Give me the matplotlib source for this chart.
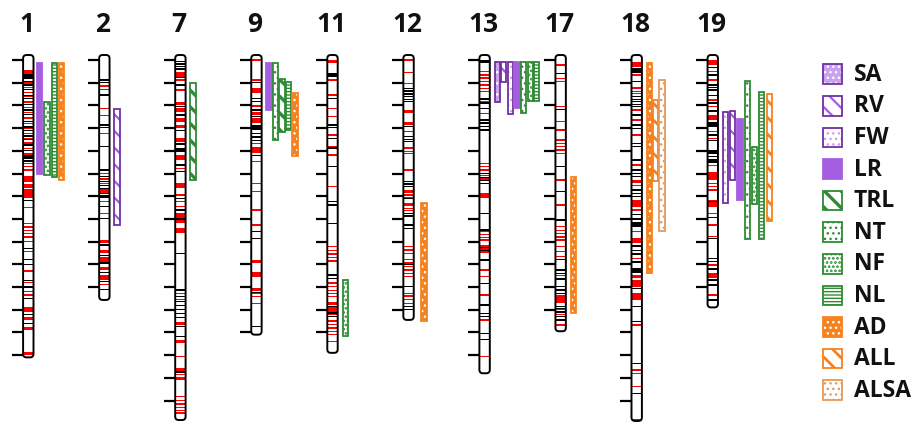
import matplotlib
matplotlib.use('Agg')
import matplotlib.pyplot as plt
from matplotlib.patches import FancyBboxPatch, Rectangle
from matplotlib.collections import PatchCollection

# ---------------- data ----------------
CHROMS = ['1', '2', '7', '9', '11', '12', '13', '17', '18', '19']
CHROM_LEN = [131, 105.7, 158.6, 121, 129, 114.5, 138, 119.5, 159, 109]  # cM

RED_1 = [(4.4, 6.2), 10.2, 12, 14.3, 16.2, 18.5, 21, 23, 25.5, 28, 30.2, 32.3, 34.5, 36.5, 39, (41, 42), 45.5, 47,
         48.5, (51, 53.6), 55, 56, (57, 61), 65, 72, 73.5, 75, 76.5, 78, 80, 84.4, 93, 98, 102, 103.5, (109, 111),
         (113, 114.5), (117.6, 119), (128.5, 130)]
BLK_1 = [(6.2, 8.5), 9.5, 11, 13, 15.5, 17, 19.5, 22, 24, 27, 29.5, 31, 33.5, 35, 37.5, 40, (42, 43.5), 44.5, 62, 83,
         88, 90, 97, 100, 105, 112, 116]
RED_2 = [11.5, 13, 21.3, 24.5, 32.3, 50, 52.5, 54.4, (57, 58.6), 62.4, 67.5, (79.3, 80.6), (83.7, 85), (86.6, 88.8),
         (91, 92.5), (94.7, 97), 99]
BLK_2 = [8.8, 10, 15.4, 28.6, 29.8, 38.2, 48.5, 51.4, 53.6, 55.2, 56.5, 58.9, (59.5, 61), 64.6, 69.7, 81.5, 86, 89.5,
         93.5, 97.7, 101]
RED_7 = [(5.1, 7.3), 8.8, 13.2, (18.4, 19.8), (21.3, 22.8), (25.7, 27.2), (28.6, 30), (34.5, 36), (41.9, 44), 47.8,
         (54.3, 56.5), 59.5, 62.4, 64.6, (67.5, 69.5), (70.5, 72), (74, 76.3), 102.8, 105.5, (115.3, 116.7),
         (123.3, 124.8), 130.7, (135.7, 137), 138.5, (139.5, 141), 148.3, 150, 151.5, 153, 154.5, 155.5]
BLK_7 = [0.7, 1.8, 2.9, 4, 7.6, 11, 20.5, 24.2, 31, 37, (38.9, 40.4), 46.3, 49.2, 61, 66, 70, 85.2, 101.3, 104.2,
         106.5, 108.2, 110, 111.6, 113.5, 117.5, 121.9, 137.5]
RED_9 = [0, 8.8, (12.5, 14.7), (19.8, 20.6), (22.8, 24.2), (25.7, 27.9), 36.7, (38.2, 41.1), 44.8, 54.3, 58, 66, 72.7,
         (88, 89.6), (93.3, 95.4), (100.6, 101.8), 103, 104.3, 107.2]
BLK_9 = [10, 16.9, 18.3, 22, 25, (28.6, 30.8), 32.5, 34, 35.5, 42, 75.6, 78.5, 102.3, 117.5]
RED_11 = [(0, 1.5), 8.8, 15.4, 21.3, 25, 33, 38.2, 41.9, 55.8, 82.2, 83.8, 85.5, 87, 88.5, (97.7, 98.5), 99.8, 101.5,
          103, 104.3, (106.5, 108), (109, 111), 112, (114.5, 115.5), 116.5, 118, 119.5, 121, 124]
BLK_11 = [(5.9, 7.3), 16.9, 28.6, 29.6, 34.5, 38.8, 47, 62.4, 63.9, 72, 94.7, 96.2, 108.5, 111.5, 113]
RED_12 = [0, 5.6, 10.3, (22, 23.5), (27.2, 28.6), 31.6, (38.2, 39.2), 40.2, 41.1, 48.5, (57.3, 58.5), 59.5, 60.5,
          (63.1, 64.2), 65.3, 66.2, 82.2, 83.7, 85.2, 88, 89.5, 91, 92.5, 94, 95.4, 102.8, 104, 105.5, 107.2]
BLK_12 = [12.5, 13.7, 14.9, 16.1, 17.3, 18.4, 29.2, 33.8, 35, 36, 53.6, 54.7, 55.8, 61, 67.5, 68.8, 72.7, 74.1, 90.2,
          99.9, 108.7, 110]
RED_13 = [5.1, 6.6, 8, 9.5, 11, 12.5, 14, (17.9, 18.9), 23.5, 45.5, 47, 48.5, 51, 52.5, (58.7, 61), 75.6, 77, 78.3,
          79.3, (81.5, 85.2), 92.5, 95.5, 103.5, 114.5, 130.7]
BLK_13 = [(0, 1.5), (16.9, 17.8), 19, 21.5, 26.4, 27.8, 29.2, 30.8, 50, 51.7, 53, 54.3, 67.5, 74.9, 82.5, 84, 88.1,
          98.5, 107.9, 111.6, 113.1, 120.4, 123]
RED_17 = [2.2, 8.1, 9.5, 20.6, 27.2, 30.8, 35.2, 36.7, 38.2, 39.7, 41.1, 52.9, 63.9, 73.4, 75, 76.5, 78, 79.3, 82.2,
          84.5, 86.6, 95, (103.5, 107.2), 110, 112, 116.7]
BLK_17 = [5.9, 21.8, 47, 58, 70.5, 88, 92.5, 94, 96.5, 99.9, 101.4, 102.8, 108.7, 109.5, 111, 113, 114.5]
RED_18 = [(0.7, 3), 6.6, (11.8, 12.8), 13.8, 14.7, 22, 26.4, 33, 46.3, (52.9, 54.2), 55.3, (61.7, 64.6), 66, 75.6,
          (78.5, 80.7), 87.4, (94.7, 96.2), (97, 99.9), (102.8, 105.7), 116.7, 136.6, 138, 143.9, 158.3]
BLK_18 = [(3.7, 5.9), 9.5, 16.2, 17.3, 18.4, 19.5, 20.6, 24.2, 28.6, 30.2, 36.7, 38.2, 44, 48.5, 50, 51.4, 57.3, 58.8,
          60.2, 68, 70, (71.2, 73.4), 82, 84, 85.5, 89, (91.8, 94), 100.8, 108.7, 115.3, 133.6, 146.8]
RED_19 = [(0, 2.2), 5.1, 8.8, 17.6, 20.6, (24.2, 26.4), 31.6, 34.5, 46.5, (49.2, 52.9), 54.3, 55.8, 57.3, (61.7, 64.6),
          67.5, 72.7, 77.8, 90.3, (94, 96.2), 103.5]
BLK_19 = [3.2, 6.6, 11, 12, 13.2, 15.6, 19, 22.5, (27.2, 29.4), 33, 35.5, (39.6, 41.5), 42.5, (43.5, 45.5), 62.4, 69.5,
          78.5, 87.4, 88.8, 92, 96.9, 99.1, 105.7]

RED_BANDS = [RED_1, RED_2, RED_7, RED_9, RED_11, RED_12, RED_13, RED_17, RED_18, RED_19]
BLACK_BANDS = [BLK_1, BLK_2, BLK_7, BLK_9, BLK_11, BLK_12, BLK_13, BLK_17, BLK_18, BLK_19]

TRAITS = ['SA', 'RV', 'FW', 'LR', 'TRL', 'NT', 'NF', 'NL', 'AD', 'ALL', 'ALSA']

QTL_CHROM = ['1', '1', '1', '1', '2', '7', '9', '9', '9', '9', '9', '11', '12',
             '13', '13', '13', '13', '13', '13', '13', '17', '18', '18', '18',
             '19', '19', '19', '19', '19', '19', '19']
QTL_TRAIT = ['LR', 'NF', 'NL', 'AD', 'RV', 'TRL', 'LR', 'NT', 'TRL', 'NL', 'AD', 'NF', 'AD',
             'SA', 'RV', 'FW', 'LR', 'NT', 'NF', 'NL', 'AD', 'AD', 'ALL', 'ALSA',
             'FW', 'RV', 'LR', 'NT', 'NF', 'NL', 'ALL']
QTL_START = [1.5, 18.6, 1.5, 1.5, 21.6, 10.3, 1.5, 1.5, 8.5, 9.8, 14.4, 96.9, 62.8,
             1, 1, 1, 1, 1, 1, 1, 51.4, 1.5, 17.6, 8.8,
             22.8, 22.3, 26, 9.1, 38.2, 14, 15.1]
QTL_END = [50.2, 50.7, 51.7, 52.9, 72.7, 52.9, 22, 35.2, 31.6, 30.8, 42.3, 121.6, 114.8,
           18.4, 9.5, 23.8, 21.3, 23.2, 17.9, 18, 111.3, 93.7, 53.2, 75.3,
           62.8, 52.9, 61.7, 79, 63.6, 79, 70.9]

# ---------------- styles / layout ----------------
PURPLE = '#7030A0'
MPURPLE = '#A55EE0'
LPURPLE = '#C9A2EE'
GREEN = '#2E8B34'
ORANGE = '#F5821F'
LORANGE = '#E59A5C'

STYLE = {
    'SA':   dict(face=LPURPLE, edge=PURPLE, hatch='...', hc='white', hlw=1.0),
    'RV':   dict(face='white', edge=PURPLE, hatch='\\\\', hc=MPURPLE, hlw=1.6),
    'FW':   dict(face='white', edge=PURPLE, hatch='...', hc=LPURPLE, hlw=1.0),
    'LR':   dict(face=MPURPLE, edge=MPURPLE, hatch=None, hc=MPURPLE, hlw=1.0),
    'TRL':  dict(face='white', edge=GREEN, hatch='\\\\', hc=GREEN, hlw=2.4),
    'NT':   dict(face='white', edge=GREEN, hatch='...', hc=GREEN, hlw=1.0),
    'NF':   dict(face='white', edge=GREEN, hatch='....', hc=GREEN, hlw=1.3),
    'NL':   dict(face='white', edge=GREEN, hatch='-----', hc=GREEN, hlw=1.0),
    'AD':   dict(face=ORANGE, edge=ORANGE, hatch='...', hc='white', hlw=1.0),
    'ALL':  dict(face='white', edge=ORANGE, hatch='\\\\', hc=ORANGE, hlw=2.0),
    'ALSA': dict(face='white', edge=LORANGE, hatch='...', hc=LORANGE, hlw=1.0),
}

W, H = 917, 423
PX0 = 60.0        # pixel row of 0 cM
PXCM = 2.27       # pixels per cM
X0, DX = 28.3, 76.05
CW = 10.4          # chromosome width (px)
TOP = -2.2
COL_GAP = {'1': 7.2, '9': 6.5, '13': 6.6, '18': 6.3, '19': 7.3}
FIRST_OFF = {'1': 11.4, '12': 15.5}
BAR_W = 5.2

plt.rcParams['font.family'] = ['Open Sans', 'DejaVu Sans']
plt.rcParams['hatch.linewidth'] = 1.1

fig = plt.figure(figsize=(W / 100, H / 100), dpi=100)
ax = fig.add_axes([0, 0, 1, 1])
ax.set_xlim(0, W)
ax.set_ylim((H - PX0) / PXCM, -PX0 / PXCM)
ax.axis('off')

centers = {}
for i, (name, L) in enumerate(zip(CHROMS, CHROM_LEN)):
    c = X0 + i * DX
    centers[name] = c
    body = FancyBboxPatch((c - CW / 2, TOP), CW, L - TOP,
                          boxstyle='round,pad=0,rounding_size=3.5',
                          mutation_aspect=1 / PXCM, facecolor='white', edgecolor='none', zorder=1)
    ax.add_patch(body)
    for bands, col in ((RED_BANDS[i], '#FF0000'), (BLACK_BANDS[i], 'black')):
        rects = []
        for b in bands:
            a, e = (b if isinstance(b, tuple) else (b - 0.3, b + 0.3))
            rects.append(Rectangle((c - CW / 2, a), CW, e - a))
        ax.add_collection(PatchCollection(rects, facecolor=col, edgecolor='none', zorder=2))
    outline = FancyBboxPatch((c - CW / 2, TOP), CW, L - TOP,
                             boxstyle='round,pad=0,rounding_size=3.5',
                             mutation_aspect=1 / PXCM, facecolor='none', edgecolor='black',
                             linewidth=1.4, zorder=3)
    ax.add_patch(outline)
    ticks = list(range(0, int(L - 0.5) // 10 * 10 + 1, 10))
    ax.hlines(ticks, c - 16.6, c - CW / 2, color='black', linewidth=1.6, zorder=3)
    ax.text(c - 1.5, (24 - PX0) / PXCM, name, ha='center', va='center',
            fontsize=19, fontweight='bold', color='#111111')


def draw_bar(a, x, bottom, height, width, trait):
    st = STYLE[trait]
    bars = a.bar(x, height, width=width, bottom=bottom, color=st['face'], edgecolor=st['hc'],
                 hatch=st['hatch'], linewidth=0, zorder=4)
    for p in bars:
        if hasattr(p, 'set_hatch_linewidth'):
            p.set_hatch_linewidth(st['hlw'])
    a.bar(x, height, width=width, bottom=bottom, fill=False, edgecolor=st['edge'],
          linewidth=1.3, zorder=5)


col_count = {}
for ch, tr, s, e in zip(QTL_CHROM, QTL_TRAIT, QTL_START, QTL_END):
    k = col_count.get(ch, 0)
    col_count[ch] = k + 1
    off = FIRST_OFF.get(ch, 12.6) + k * COL_GAP.get(ch, 6.8)
    draw_bar(ax, centers[ch] + off, s, e - s, BAR_W, tr)

# ---------------- legend ----------------
lax = fig.add_axes([822 / W, 1 - 406 / H, 95 / W, 347.6 / H])
lax.set_xlim(0, 95)
lax.set_ylim(10.5, -0.5)
lax.axis('off')
for i, tr in enumerate(TRAITS):
    draw_bar(lax, 10.5, i - 0.31, 0.62, 19.0, tr)
    lax.text(32, i + 0.02, tr, ha='left', va='center', fontsize=16.5, fontweight='bold', color='#111111')

fig.savefig('out.png', dpi=100)
